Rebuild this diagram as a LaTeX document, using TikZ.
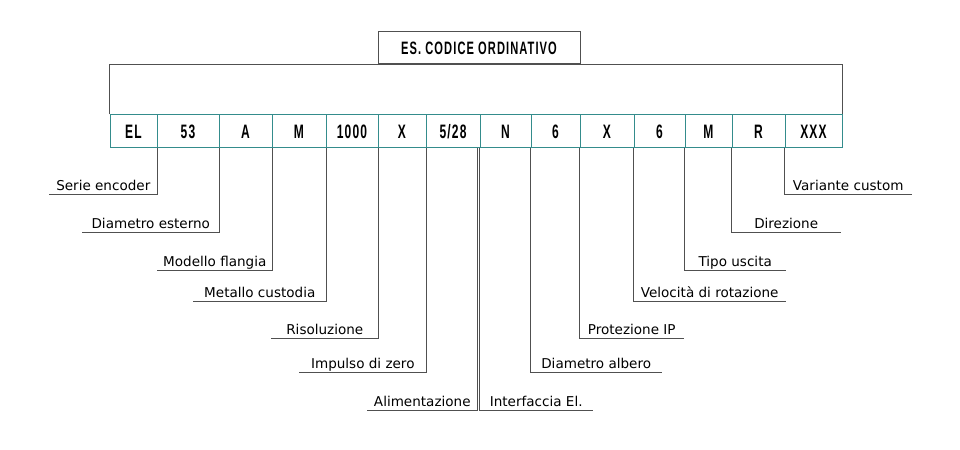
\documentclass[tikz,border=0pt]{standalone}
\usepackage{fontspec}
\usetikzlibrary{positioning}
\newfontfamily\lblfont{DejaVu Sans}
\newfontfamily\codefont[FakeStretch=0.62,LetterSpace=6]{Liberation Sans}
\definecolor{cellteal}{RGB}{52,140,140}
\definecolor{linegray}{RGB}{80,80,80}

\begin{document}
\begin{tikzpicture}[x=1bp,y=-1bp,
    cell/.style={draw=cellteal, line width=1bp, inner sep=0pt, minimum height=33bp,
        text height=14bp, text depth=0pt, font=\codefont\bfseries\fontsize{19.5}{20}\selectfont},
    lbl/.style={inner xsep=0pt, inner ysep=4bp, text height=10bp, text depth=0pt,
        font=\lblfont\fontsize{13.6}{16}\selectfont},
    lead/.style={draw=linegray, line width=1bp}]
    \useasboundingbox (0,0) rectangle (960,450);
    % title and frame
    \node[draw=linegray, line width=1bp, inner sep=0pt, minimum width=202bp, minimum height=32bp,
        font=\codefont\bfseries\fontsize{18}{20}\selectfont] (title) at (479,48) {ES. CODICE ORDINATIVO};
    \foreach \l/\r/\t [count=\i] in {110/157/EL, 157/219/53, 219/272/A, 272/326/M, 326/378/1000,
        378/426/X, 426/480/{5/28}, 480/531/N, 531/580/6, 580/634/X, 634/685/6, 685/732/M,
        732/785/R, 785/842/XXX}
    \node[cell, minimum width={(\r-\l)*1bp}] (c\i) at ({(\l+\r)/2},131.5) {\t};
    \draw[lead] (c1.north west) |- (title.south) -| (c14.north east);
    % left labels
    \foreach \i/\y/\w/\t in {1/195/108/Serie encoder, 2/233/137/Diametro esterno,
        3/271/115/Modello flangia, 4/302/133/Metallo custodia, 5/339/107/Risoluzione,
        6/373/127/Impulso di zero}
    {
    \node[lbl, minimum width=\w bp, anchor=south east] (l\i) at (c\i.south east |- 0,\y) {\t};
    \draw[lead] (c\i.south east) |- (l\i.south west);
    }
    \node[lbl, minimum width=110bp, anchor=south east] (l7) at ([xshift=-3bp]c7.south east |- 0,411) {Alimentazione};
    \draw[lead] ([xshift=-3bp]c7.south east) |- (l7.south west);
    % right labels
    \foreach \i/\y/\w/\t in {8/411/113/Interfaccia El., 9/373/131/Diametro albero,
        10/339/104/Protezione IP, 11/302/152/Velocità di rotazione, 12/271/101/Tipo uscita,
        13/233/109/Direzione, 14/195/127/Variante custom}
    {
    \node[lbl, minimum width=\w bp, anchor=south west] (l\i) at (c\i.south west |- 0,\y) {\t};
    \draw[lead] (c\i.south west) |- (l\i.south east);
    }
\end{tikzpicture}
\end{document}
